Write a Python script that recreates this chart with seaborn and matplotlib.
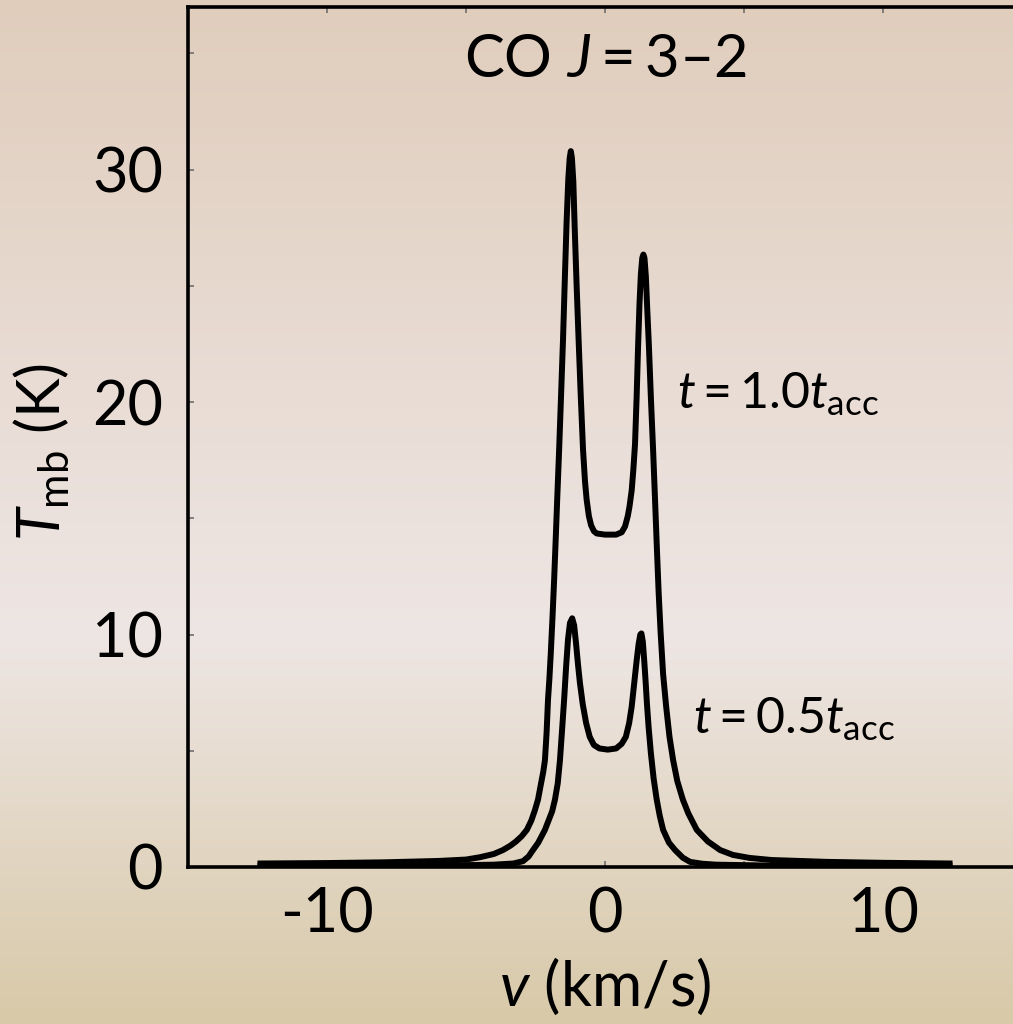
import numpy as np
import pandas as pd
import matplotlib
matplotlib.use("Agg")
import matplotlib.pyplot as plt
from matplotlib.colors import to_rgb
from matplotlib.ticker import MultipleLocator
import seaborn as sns

# CO J=3-2 line profiles
v_late = [-12.5, -10, -8, -6, -5.0, -4.5, -4.0, -3.67, -3.4, -3.2, -3.0, -2.81,
          -2.65, -2.52, -2.41, -2.3, -2.22, -2.16, -2.1, -2.05, -2.0, -1.95,
          -1.89, -1.83, -1.77, -1.72, -1.65, -1.58, -1.51, -1.44, -1.38, -1.32,
          -1.27, -1.23, -1.19, -1.14, -1.09, -1.02, -0.95, -0.87, -0.79, -0.72,
          -0.66, -0.58, -0.5, -0.4, -0.3, 0.0, 0.4, 0.6, 0.72, 0.82, 0.88, 0.96,
          1.02, 1.08, 1.14, 1.19, 1.24, 1.29, 1.34, 1.38, 1.42, 1.47, 1.52, 1.58,
          1.65, 1.73, 1.80, 1.87, 1.93, 2.0, 2.09, 2.2, 2.32, 2.45, 2.6, 2.8, 3.0,
          3.3, 3.7, 4.14, 4.6, 5.2, 6, 8, 10, 12.5]
T_late = [0.15, 0.17, 0.2, 0.26, 0.32, 0.42, 0.56, 0.73, 0.92, 1.1, 1.32, 1.6,
          2.0, 2.45, 2.9, 3.6, 4.1, 4.6, 5.8, 7.2, 8.1, 9.2,
          10.7, 12.35, 14.2, 15.8, 17.95, 20.3, 22.7, 25.5, 27.8, 29.6,
          30.5, 30.8, 30.5, 29.5, 27.5, 25.0, 22.7, 20.2, 17.95, 16.6,
          15.8, 15.1, 14.7, 14.45, 14.35, 14.3, 14.3, 14.4, 14.65, 15.1, 15.5, 16.2,
          17.1, 18.2, 20.3, 22.4, 24.2, 25.5, 26.2, 26.35, 26.2, 25.4, 24.0, 22.4,
          20.2, 17.95, 15.8, 13.6, 11.8, 10.1, 8.3, 6.9, 5.6, 4.6, 3.7, 2.9, 2.3,
          1.6, 1.1, 0.73, 0.52, 0.39, 0.3, 0.22, 0.18, 0.15]

v_early = [-12.5, -6, -4, -3.3, -2.95, -2.75, -2.59, -2.4, -2.16, -1.9, -1.8,
           -1.7, -1.62, -1.55, -1.47, -1.40, -1.33, -1.26, -1.18, -1.11, -1.04,
           -0.97, -0.90, -0.8, -0.68, -0.55, -0.4, -0.2, 0.1, 0.4, 0.6, 0.75,
           0.87, 0.96, 1.05, 1.14, 1.21, 1.27, 1.31, 1.36, 1.41, 1.46, 1.51, 1.57,
           1.65, 1.75, 1.86, 1.97, 2.09, 2.3, 2.52, 2.8, 3.06, 3.5, 4, 6, 12.5]
T_early = [0.05, 0.06, 0.1, 0.15, 0.25, 0.45, 0.73, 1.05, 1.6, 2.4, 2.9,
           3.6, 4.6, 5.8, 7.2, 8.6, 9.8, 10.5, 10.7, 10.4, 9.6,
           8.7, 7.9, 7.0, 6.2, 5.6, 5.25, 5.1, 5.05, 5.1, 5.3, 5.6,
           6.2, 6.9, 7.9, 8.9, 9.6, 10.0, 10.05, 9.7, 8.9, 8.0, 7.0, 6.0,
           4.9, 3.8, 2.9, 2.2, 1.6, 1.05, 0.73, 0.4, 0.22, 0.14, 0.1, 0.06, 0.05]

df = pd.concat([
    pd.DataFrame({"v": v_late, "T": T_late, "run": "late"}),
    pd.DataFrame({"v": v_early, "T": T_early, "run": "early"}),
])

sns.set_theme(style="ticks")
plt.rcParams["font.family"] = ["Lato", "DejaVu Sans"]
plt.rcParams["mathtext.fontset"] = "custom"
plt.rcParams["mathtext.rm"] = "Lato"
plt.rcParams["mathtext.it"] = "Lato:italic"
plt.rcParams["text.color"] = "black"
plt.rcParams["axes.labelcolor"] = "black"

fig = plt.figure(figsize=(10.13, 10.24), dpi=100)

# gradient background
bg = fig.add_axes([0, 0, 1, 1], zorder=-10)
stops = [0.0, 0.62, 1.0]
cols = [to_rgb("#E0CDBC"), to_rgb("#EEE6E4"), to_rgb("#D8C9A8")]
yy = np.linspace(0, 1, 256)
grad = np.stack([np.interp(yy, stops, [c[i] for c in cols]) for i in range(3)], axis=-1)
bg.imshow(grad[:, None, :], aspect="auto", extent=[0, 1, 1, 0])
bg.set_axis_off()

ax = fig.add_axes([188 / 1013, 157 / 1024, 834 / 1013, 860 / 1024])
ax.set_facecolor("none")

sns.lineplot(data=df, x="v", y="T", units="run", estimator=None, sort=False,
             color="black", linewidth=4.3, ax=ax, legend=False,
             solid_joinstyle="round", solid_capstyle="butt")

ax.set_xlim(-15, 15)
ax.set_ylim(0, 37)
ax.xaxis.set_major_locator(MultipleLocator(10))
ax.xaxis.set_minor_locator(MultipleLocator(5))
ax.yaxis.set_major_locator(MultipleLocator(10))
ax.yaxis.set_minor_locator(MultipleLocator(5))
ax.xaxis.set_major_formatter(plt.FuncFormatter(lambda x, p: f"{x:.0f}"))
ax.tick_params(which="both", direction="in", length=4, width=1.2, color="#6E6E6E",
               top=True, right=False, labelsize=44, labelcolor="black")
ax.tick_params(axis="y", which="both", pad=18)
ax.tick_params(axis="x", which="both", pad=14)

for side in ["left", "bottom", "top"]:
    ax.spines[side].set_linewidth(2.6)
    ax.spines[side].set_color("black")
ax.spines["right"].set_visible(False)

ax.set_xlabel(r"$v$ (km/s)", fontsize=44, labelpad=9)
ax.set_ylabel(r"$T_{\rm mb}$ (K)", fontsize=43)
ax.yaxis.set_label_coords(-0.139, 0.483)

ax.text(0, 34.7, r"CO $J = $3–2", fontsize=43, ha="center", va="center", color="black")
ax.text(2.6, 19.75, r"$t = $1.0$t_{\rm acc}$", fontsize=36, ha="left", va="baseline", color="black")
ax.text(3.15, 5.75, r"$t = $0.5$t_{\rm acc}$", fontsize=36, ha="left", va="baseline", color="black")

fig.savefig("out.png", dpi=100)
